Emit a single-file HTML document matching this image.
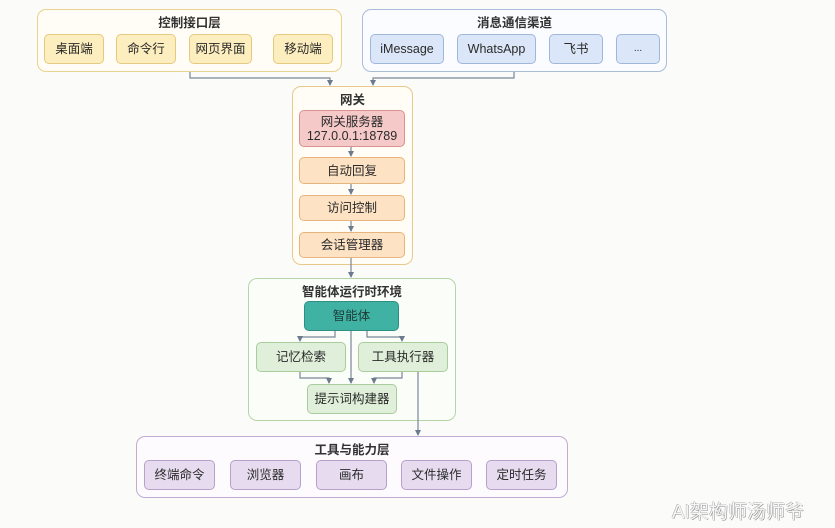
<!DOCTYPE html>
<html><head><meta charset="utf-8"><style>
*{box-sizing:border-box;margin:0;padding:0}
body{width:835px;height:528px;background:#fbfbfa;position:relative;overflow:hidden;font-family:"Liberation Sans","Noto Sans CJK SC",sans-serif;color:#333}
.b{position:absolute;border-radius:9px;border:1.5px solid}
.n{position:absolute;border-radius:5px;border:1.3px solid;display:flex;align-items:center;justify-content:center;font-size:12.5px;text-align:center;line-height:14px;color:#2a2a2a}
.t{position:absolute;font-size:12.5px;font-weight:bold;text-align:center;color:#333}
.y{background:#fdeebf;border-color:#e4c980}
.bl{background:#dbe7f8;border-color:#9fb7d9}
.o{background:#fde2c4;border-color:#e6b57e}
.g{background:#e0efd9;border-color:#a9cc9c}
.p{background:#e7dcef;border-color:#b7a0c9}
svg{position:absolute;left:0;top:0}
</style></head><body>
<div class="b" style="left:37px;top:9px;width:305px;height:63px;border-color:#e8d28f;background:#fffdf5"></div>
<div class="t" style="left:37px;top:12px;width:305px">控制接口层</div>
<div class="n y" style="left:44px;top:34px;width:60px;height:30px">桌面端</div>
<div class="n y" style="left:116px;top:34px;width:60px;height:30px">命令行</div>
<div class="n y" style="left:189px;top:34px;width:63px;height:30px">网页界面</div>
<div class="n y" style="left:273px;top:34px;width:60px;height:30px">移动端</div>

<div class="b" style="left:362px;top:9px;width:305px;height:63px;border-color:#a9bcd8;background:#fbfcff"></div>
<div class="t" style="left:362px;top:12px;width:305px">消息通信渠道</div>
<div class="n bl" style="left:370px;top:34px;width:74px;height:30px">iMessage</div>
<div class="n bl" style="left:457px;top:34px;width:79px;height:30px">WhatsApp</div>
<div class="n bl" style="left:549px;top:34px;width:54px;height:30px">飞书</div>
<div class="n bl" style="left:616px;top:34px;width:44px;height:30px;font-size:10px">...</div>

<div class="b" style="left:292px;top:86px;width:121px;height:179px;border-color:#e8c98a;background:#fffdf6"></div>
<div class="t" style="left:292px;top:89px;width:121px">网关</div>
<div class="n" style="left:299px;top:110px;width:106px;height:37px;background:#f6c9c9;border-color:#d99191;flex-direction:column">网关服务器<br>127.0.0.1:18789</div>
<div class="n o" style="left:299px;top:157px;width:106px;height:27px">自动回复</div>
<div class="n o" style="left:299px;top:195px;width:106px;height:26px">访问控制</div>
<div class="n o" style="left:299px;top:232px;width:106px;height:26px">会话管理器</div>

<div class="b" style="left:248px;top:278px;width:208px;height:143px;border-color:#b5d5a8;background:#fbfdf9"></div>
<div class="t" style="left:248px;top:281px;width:208px">智能体运行时环境</div>
<div class="n" style="left:304px;top:301px;width:95px;height:30px;background:#3fb2a4;border-color:#2d8f83;color:#1e3a36">智能体</div>
<div class="n g" style="left:256px;top:342px;width:90px;height:30px">记忆检索</div>
<div class="n g" style="left:358px;top:342px;width:90px;height:30px">工具执行器</div>
<div class="n g" style="left:307px;top:384px;width:90px;height:30px">提示词构建器</div>

<div class="b" style="left:136px;top:436px;width:432px;height:62px;border-color:#c1abd3;background:#fdfbfe"></div>
<div class="t" style="left:136px;top:439px;width:432px">工具与能力层</div>
<div class="n p" style="left:144px;top:460px;width:71px;height:30px">终端命令</div>
<div class="n p" style="left:230px;top:460px;width:71px;height:30px">浏览器</div>
<div class="n p" style="left:316px;top:460px;width:71px;height:30px">画布</div>
<div class="n p" style="left:401px;top:460px;width:71px;height:30px">文件操作</div>
<div class="n p" style="left:486px;top:460px;width:71px;height:30px">定时任务</div>

<svg width="835" height="528">
<g fill="none" stroke="#7a8696" stroke-width="1.2">
<path d="M190,72 V78 H330 V85"/><path d="M327,80 L333,80 L330,86z" fill="#6b7a8c" stroke="none"/>
<path d="M514,72 V78 H373 V85"/><path d="M370,80 L376,80 L373,86z" fill="#6b7a8c" stroke="none"/>
<path d="M351,147 V156"/><path d="M348,151 L354,151 L351,157z" fill="#6b7a8c" stroke="none"/>
<path d="M351,184 V194"/><path d="M348,189 L354,189 L351,195z" fill="#6b7a8c" stroke="none"/>
<path d="M351,221 V231"/><path d="M348,226 L354,226 L351,232z" fill="#6b7a8c" stroke="none"/>
<path d="M351,258 V277"/><path d="M348,272 L354,272 L351,278z" fill="#6b7a8c" stroke="none"/>
<path d="M335,331 V337 H300 V341"/><path d="M297,336 L303,336 L300,342z" fill="#6b7a8c" stroke="none"/>
<path d="M367,331 V337 H402 V341"/><path d="M399,336 L405,336 L402,342z" fill="#6b7a8c" stroke="none"/>
<path d="M351,331 V383"/><path d="M348,378 L354,378 L351,384z" fill="#6b7a8c" stroke="none"/>
<path d="M300,372 V378 H329 V383"/><path d="M326,378 L332,378 L329,384z" fill="#6b7a8c" stroke="none"/>
<path d="M402,372 V378 H374 V383"/><path d="M371,378 L377,378 L374,384z" fill="#6b7a8c" stroke="none"/>
<path d="M418,372 V435"/><path d="M415,430 L421,430 L418,436z" fill="#6b7a8c" stroke="none"/>
</g></svg>
<div style="position:absolute;left:672px;top:497px;font-size:19px;color:#f6f6f6;text-shadow:0.5px 0.5px 0 #8a8a8a,-0.5px -0.5px 0 #b0b0b0">AI架构师汤师爷</div>
</body></html>
